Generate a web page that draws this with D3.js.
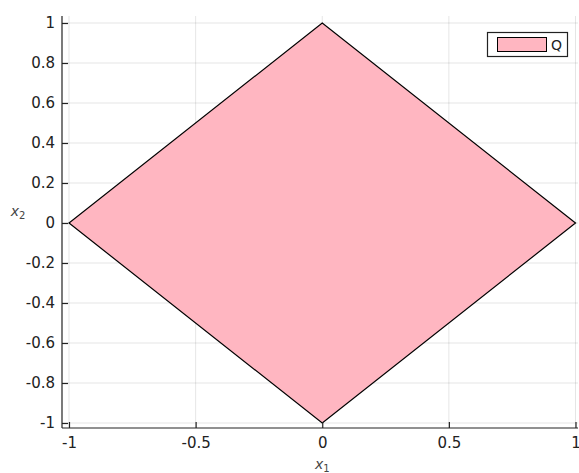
<!DOCTYPE html>
<html>
<head>
<meta charset="utf-8">
<script src="https://cdn.jsdelivr.net/npm/d3@7"></script>
<style>
  body { margin: 0; background: #fff; }
  text { font-family: "DejaVu Sans", sans-serif; }
</style>
</head>
<body>
<svg id="chart"></svg>
<script>
// Polygon vertices (x1, x2)
const polyX = [1, 0, -1, 0];
const polyY = [0, 1, 0, -1];
const seriesName = 'Q';
const xTicks = [-1, -0.5, 0, 0.5, 1];
const yTicks = [-1, -0.8, -0.6, -0.4, -0.2, 0, 0.2, 0.4, 0.6, 0.8, 1];

const width = 579, height = 473;
const xScale = d3.scaleLinear().domain([-1, 1]).range([69, 575.5]);
const yScale = d3.scaleLinear().domain([-1, 1]).range([423, 23]);
const plotL = 62, plotB = 428, plotT = 16, plotR = 578;

const svg = d3.select('#chart').attr('width', width).attr('height', height);

// grid
svg.append('g').selectAll('line').data(xTicks).join('line')
  .attr('x1', d => xScale(d)).attr('x2', d => xScale(d))
  .attr('y1', plotT).attr('y2', plotB)
  .attr('stroke', '#000').attr('stroke-opacity', 0.1).attr('stroke-width', 1);
svg.append('g').selectAll('line').data(yTicks).join('line')
  .attr('x1', plotL).attr('x2', plotR)
  .attr('y1', d => yScale(d)).attr('y2', d => yScale(d))
  .attr('stroke', '#000').attr('stroke-opacity', 0.1).attr('stroke-width', 1);

// polygon
const pts = polyX.map((x, i) => [xScale(x), yScale(polyY[i])]);
svg.append('path')
  .attr('d', d3.line()(pts) + 'Z')
  .attr('fill', '#ffb6c1')
  .attr('stroke', '#000').attr('stroke-width', 1.2);

// axes
const fmt = d => String(d);
const xAxis = d3.axisBottom(xScale).tickValues(xTicks).tickFormat(fmt).tickSizeInner(-6).tickSizeOuter(0).tickPadding(9);
const yAxis = d3.axisLeft(yScale).tickValues(yTicks).tickFormat(fmt).tickSizeInner(-6).tickSizeOuter(0).tickPadding(7);

const xg = svg.append('g').attr('transform', `translate(0,${plotB})`).call(xAxis);
const yg = svg.append('g').attr('transform', `translate(${plotL},0)`).call(yAxis);
[xg, yg].forEach(g => {
  g.select('.domain').remove();
  g.selectAll('.tick line').attr('stroke', '#222').attr('stroke-width', 1.2);
  g.selectAll('.tick text').attr('fill', '#222').attr('font-size', 15);
});
xg.selectAll('.tick text').attr('dy', '0.75em');

svg.append('line').attr('x1', plotL).attr('x2', plotL).attr('y1', plotT).attr('y2', plotB)
  .attr('stroke', '#222').attr('stroke-width', 1.2);
svg.append('line').attr('x1', plotL).attr('x2', plotR).attr('y1', plotB).attr('y2', plotB)
  .attr('stroke', '#222').attr('stroke-width', 1.2);

// axis labels
svg.append('text').attr('x', xScale(0)).attr('y', 469).attr('text-anchor', 'middle')
  .attr('font-family', 'DejaVu Serif, serif').attr('font-style', 'italic').attr('font-size', 14).attr('fill', '#444')
  .html('x<tspan dy="3" font-size="10" font-style="normal">1</tspan>');
svg.append('text').attr('x', 18).attr('y', 216).attr('text-anchor', 'middle')
  .attr('font-family', 'DejaVu Serif, serif').attr('font-style', 'italic').attr('font-size', 14).attr('fill', '#444')
  .html('x<tspan dy="3" font-size="10" font-style="normal">2</tspan>');

// legend
const lg = svg.append('g');
lg.append('rect').attr('x', 487.5).attr('y', 32.5).attr('width', 80).attr('height', 24)
  .attr('fill', '#fff').attr('stroke', '#222').attr('stroke-width', 1.2);
lg.append('rect').attr('x', 497.5).attr('y', 37.5).attr('width', 49).attr('height', 14)
  .attr('fill', '#ffb6c1').attr('stroke', '#000').attr('stroke-width', 1);
lg.append('text').attr('x', 551).attr('y', 50).attr('font-size', 14).attr('fill', '#222').text(seriesName);
</script>
</body>
</html>
